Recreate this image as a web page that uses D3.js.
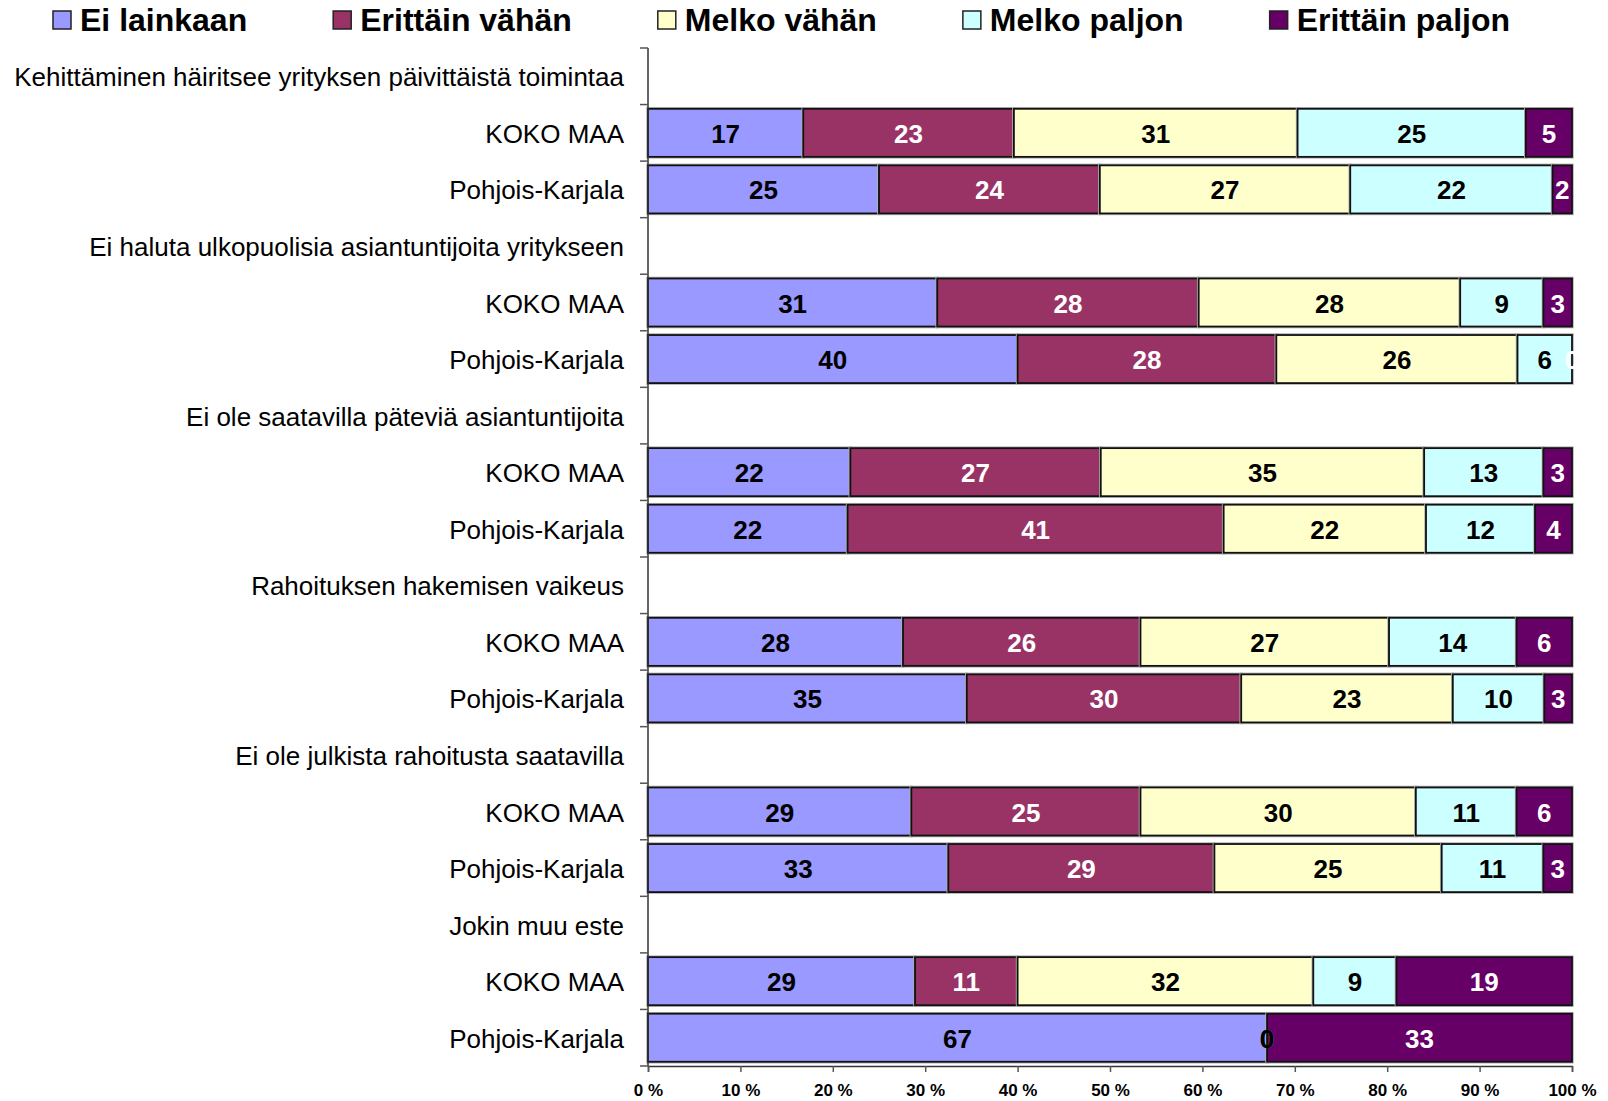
<!DOCTYPE html>
<html>
<head>
<meta charset="utf-8">
<script src="https://cdn.jsdelivr.net/npm/d3@7"></script>
<style>
  body { margin: 0; background: #fff; }
  svg text { font-family: "Liberation Sans", Arial, sans-serif; }
</style>
</head>
<body>
<script>
// group titles (one empty header row per group) and the two regions under each
var groups = [
  "Kehittäminen häiritsee yrityksen päivittäistä toimintaa",
  "Ei haluta ulkopuolisia asiantuntijoita yritykseen",
  "Ei ole saatavilla päteviä asiantuntijoita",
  "Rahoituksen hakemisen vaikeus",
  "Ei ole julkista rahoitusta saatavilla",
  "Jokin muu este"
];
var regions = ["KOKO MAA", "Pohjois-Karjala"];

var series = ["Ei lainkaan", "Erittäin vähän", "Melko vähän", "Melko paljon", "Erittäin paljon"];
var colors = ["#9999ff", "#993366", "#ffffcc", "#ccffff", "#660066"];
var labelColors = ["#000", "#fff", "#000", "#000", "#fff"];

// percentages, 12 bars (KOKO MAA, Pohjois-Karjala for each group)
var eiLainkaan     = [16.8, 25.0, 31.3, 40.0, 21.9, 21.6, 27.6, 34.5, 28.5, 32.5, 28.9, 67.0];
var erittainVahan  = [22.8, 23.9, 28.3, 28.0, 27.1, 40.7, 25.7, 29.7, 24.8, 28.8, 11.1, 0];
var melkoVahan     = [30.7, 27.1, 28.3, 26.1, 35.0, 21.9, 26.9, 22.9, 29.8, 24.6, 32.0, 0];
var melkoPaljon    = [24.7, 21.9, 9.0, 5.9, 12.9, 11.8, 13.8, 9.9, 10.9, 11.0, 9.0, 0];
var erittainPaljon = [5.0, 2.1, 3.1, 0, 3.1, 4.0, 6.0, 3.0, 6.0, 3.1, 19.0, 33.0];

var xTicks = [0, 10, 20, 30, 40, 50, 60, 70, 80, 90, 100];

var W = 1608, H = 1101;
var margin = {top: 48, right: 36, bottom: 35, left: 648};

var svg = d3.select("body").append("svg")
    .attr("width", W)
    .attr("height", H);

// build the 18 rows: header, KOKO MAA, Pohjois-Karjala ...
var rows = [];
var barIndex = 0;
groups.forEach(function(g) {
  rows.push({label: g, bar: null});
  regions.forEach(function(r) {
    var i = barIndex++;
    rows.push({label: r, bar: {
      "Ei lainkaan": eiLainkaan[i],
      "Erittäin vähän": erittainVahan[i],
      "Melko vähän": melkoVahan[i],
      "Melko paljon": melkoPaljon[i],
      "Erittäin paljon": erittainPaljon[i]
    }});
  });
});
rows.forEach(function(d, i) { d.row = i; });

var x = d3.scaleLinear().domain([0, 100]).range([margin.left, W - margin.right]);
var y = d3.scaleBand()
    .domain(d3.range(rows.length))
    .range([margin.top, H - margin.bottom])
    .paddingInner(0.15)
    .paddingOuter(0.075);

var barRows = rows.filter(function(d) { return d.bar; });
var stacked = d3.stack().keys(series)(barRows.map(function(d) { return Object.assign({row: d.row}, d.bar); }));

// bars
var layers = svg.append("g").selectAll("g")
  .data(stacked)
  .enter().append("g");

layers.selectAll("rect.shadow")
  .data(function(d) { return d; })
  .enter().append("rect")
    .attr("class", "shadow")
    .attr("x", function(d) { return x(d[0]) - 1; })
    .attr("y", function(d) { return y(d.data.row) - 1; })
    .attr("width", function(d) { return Math.max(0, x(d[1]) - x(d[0])) + 2; })
    .attr("height", y.bandwidth() + 2)
    .attr("fill", "none")
    .attr("stroke", "#b0b0b0")
    .attr("stroke-width", function(d) { return d[1] > d[0] ? 1.5 : 0; });

layers.selectAll("rect.bar")
  .data(function(d) { return d; })
  .enter().append("rect")
    .attr("class", "bar")
    .attr("x", function(d) { return x(d[0]); })
    .attr("y", function(d) { return y(d.data.row); })
    .attr("width", function(d) { return Math.max(0, x(d[1]) - x(d[0])); })
    .attr("height", y.bandwidth())
    .attr("fill", function(d, i, n) { return colors[series.indexOf(d3.select(n[i].parentNode).datum().key)]; })
    .attr("stroke", "#111")
    .attr("stroke-width", function(d) { return d[1] > d[0] ? 1.8 : 0; });

// data labels, drawn after all bars so zero values stay visible
var labels = svg.append("g").selectAll("g")
  .data(stacked)
  .enter().append("g");
labels.each(function(layer, k) {
  d3.select(this).selectAll("text")
    .data(layer)
    .enter().append("text")
      .attr("x", function(d) { return (x(d[0]) + x(d[1])) / 2; })
      .attr("y", function(d) { return y(d.data.row) + y.bandwidth() / 2 + 1; })
      .attr("text-anchor", "middle")
      .attr("dominant-baseline", "central")
      .attr("font-size", 26)
      .attr("font-weight", "bold")
      .attr("fill", labelColors[k])
      .text(function(d) { return Math.round(d[1] - d[0]); });
});

// y axis: line, ticks on row boundaries and row labels
var yAxis = svg.append("g");
yAxis.append("line")
  .attr("x1", x(0)).attr("x2", x(0))
  .attr("y1", margin.top).attr("y2", H - margin.bottom)
  .attr("stroke", "#333").attr("stroke-width", 1.5);
yAxis.selectAll("line.tick")
  .data(d3.range(rows.length + 1))
  .enter().append("line")
    .attr("class", "tick")
    .attr("x1", x(0) - 8).attr("x2", x(0))
    .attr("y1", function(i) { return margin.top + i * y.step(); })
    .attr("y2", function(i) { return margin.top + i * y.step(); })
    .attr("stroke", "#555").attr("stroke-width", 1.5);
yAxis.selectAll("text")
  .data(rows)
  .enter().append("text")
    .attr("x", x(0) - 24)
    .attr("y", function(d) { return y(d.row) + y.bandwidth() / 2 + 1; })
    .attr("text-anchor", "end")
    .attr("dominant-baseline", "central")
    .attr("font-size", 26)
    .attr("fill", "#000")
    .text(function(d) { return d.label; });

// x axis
var xAxis = svg.append("g")
  .attr("transform", "translate(0," + (H - margin.bottom) + ")")
  .call(d3.axisBottom(x).tickValues(xTicks).tickSize(6).tickPadding(12)
    .tickFormat(function(d) { return d + " %"; }));
xAxis.select(".domain").attr("stroke", "#333").attr("stroke-width", 1.5);
xAxis.selectAll(".tick line").attr("stroke", "#555").attr("stroke-width", 1.5);
xAxis.selectAll(".tick text")
  .attr("font-family", "Liberation Sans, Arial, sans-serif")
  .attr("font-size", 17)
  .attr("font-weight", "bold")
  .attr("fill", "#000");

// legend
var legend = svg.append("g");
var lx = 53;
series.forEach(function(s, i) {
  legend.append("rect")
    .attr("x", lx).attr("y", 11)
    .attr("width", 18).attr("height", 18)
    .attr("fill", colors[i])
    .attr("stroke", "#222").attr("stroke-width", 1.5);
  var t = legend.append("text")
    .attr("x", lx + 27).attr("y", 20)
    .attr("dominant-baseline", "central")
    .attr("font-size", 32)
    .attr("font-weight", "bold")
    .attr("fill", "#000")
    .text(s);
  lx += 27 + t.node().getComputedTextLength() + 86;
});
</script>
</body>
</html>
